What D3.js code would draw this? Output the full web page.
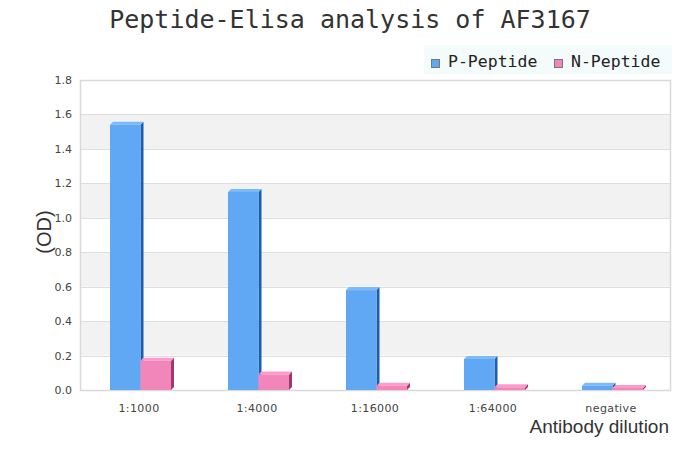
<!DOCTYPE html>
<html>
<head>
<meta charset="utf-8">
<script src="https://cdn.jsdelivr.net/npm/d3@7"></script>
<style>
  body { margin: 0; background: #fff; }
  svg { display: block; }
</style>
</head>
<body>
<div id="chart"></div>
<script>
// podatki
const categories = ["1:1000", "1:4000", "1:16000", "1:64000", "negative"];
const seriesNames = ["P-Peptide", "N-Peptide"];
const pPeptide = [1.54, 1.15, 0.58, 0.18, 0.025];
const nPeptide = [0.17, 0.09, 0.025, 0.016, 0.012];
const yTicks = [0, 0.2, 0.4, 0.6, 0.8, 1.0, 1.2, 1.4, 1.6, 1.8];

const W = 700, H = 450;
const margin = { top: 80, right: 30, bottom: 60, left: 80 };
const width = W - margin.left - margin.right;
const height = H - margin.top - margin.bottom;
const depth = 3;

const colors = {
  "P-Peptide": { front: "#60a8f4", top: "#7dbaf8", side: "#1a5eae" },
  "N-Peptide": { front: "#f285b9", top: "#ff9bcb", side: "#9e3a6e" }
};

const svg = d3.select("#chart").append("svg")
  .attr("width", W).attr("height", H);

// naslov
svg.append("text")
  .attr("x", 350).attr("y", 28)
  .attr("text-anchor", "middle")
  .attr("font-family", "'DejaVu Sans Mono', monospace")
  .attr("font-size", 25)
  .attr("fill", "#333")
  .text("Peptide-Elisa analysis of AF3167");

const g = svg.append("g").attr("transform", `translate(${margin.left},${margin.top})`);

const x = d3.scaleBand().domain(categories).range([0, width]);
const xs = d3.scaleBand().domain(seriesNames).range([30, 91]);
const y = d3.scaleLinear().domain([0, 1.8]).range([height, 0]);

// pasovi v ozadju
const bands = [[0.2, 0.4], [0.6, 0.8], [1.0, 1.2], [1.4, 1.6]];
g.selectAll(".band").data(bands).enter().append("rect")
  .attr("x", 0).attr("width", width)
  .attr("y", d => y(d[1])).attr("height", d => y(d[0]) - y(d[1]))
  .attr("fill", "#f2f2f2");

// mreža
g.selectAll(".grid").data(yTicks).enter().append("line")
  .attr("x1", 0).attr("x2", width)
  .attr("y1", d => Math.round(y(d)) + 0.5).attr("y2", d => Math.round(y(d)) + 0.5)
  .attr("stroke", "#dedede");

// okvir
g.append("rect")
  .attr("x", 0.5).attr("y", 0.5).attr("width", width).attr("height", height)
  .attr("fill", "none").attr("stroke", "#d9d9d9").attr("stroke-width", 1.5);

// osi
const yAxis = g.append("g").call(d3.axisLeft(y).tickValues(yTicks).tickFormat(d3.format(".1f")).tickSize(0).tickPadding(8));
yAxis.select(".domain").remove();
yAxis.selectAll("text").attr("font-family", "'DejaVu Sans', sans-serif").attr("font-size", 11).attr("fill", "#444");

const xAxis = g.append("g").attr("transform", `translate(0,${height})`)
  .call(d3.axisBottom(x).tickSize(0).tickPadding(14));
xAxis.select(".domain").remove();
xAxis.selectAll("text").attr("font-family", "'DejaVu Sans', sans-serif").attr("font-size", 11)
  .attr("letter-spacing", 0.4).attr("fill", "#444");

// 3D stolpci
const values = { "P-Peptide": pPeptide, "N-Peptide": nPeptide };
seriesNames.forEach(s => {
  const c = colors[s];
  const data = values[s].map((v, i) => ({ cat: categories[i], v }));
  const bars = g.selectAll(".bar-" + s).data(data).enter().append("g");
  const bx = d => x(d.cat) + xs(s);
  const bw = xs.bandwidth();
  bars.append("polygon")
    .attr("points", d => {
      const x0 = bx(d), y0 = y(d.v);
      return [[x0 + bw, y0], [x0 + bw + depth, y0 - depth], [x0 + bw + depth, height - depth], [x0 + bw, height]].join(" ");
    })
    .attr("fill", c.side);
  bars.append("polygon")
    .attr("points", d => {
      const x0 = bx(d), y0 = y(d.v);
      return [[x0, y0], [x0 + depth, y0 - depth], [x0 + bw + depth, y0 - depth], [x0 + bw, y0]].join(" ");
    })
    .attr("fill", c.top);
  bars.append("rect")
    .attr("x", bx).attr("y", d => y(d.v))
    .attr("width", bw).attr("height", d => height - y(d.v))
    .attr("fill", c.front);
});

// naslovi osi
svg.append("text")
  .attr("transform", "translate(51,232) rotate(-90)")
  .attr("text-anchor", "middle")
  .attr("font-family", "'Liberation Sans', Arial, sans-serif")
  .attr("font-size", 20)
  .attr("fill", "#333")
  .text("(OD)");

svg.append("text")
  .attr("x", 669).attr("y", 433)
  .attr("text-anchor", "end")
  .attr("font-family", "'Liberation Sans', Arial, sans-serif")
  .attr("font-size", 19)
  .attr("fill", "#333")
  .text("Antibody dilution");

// legenda
const legend = svg.append("g");
legend.append("rect")
  .attr("x", 424).attr("y", 45).attr("width", 248).attr("height", 29)
  .attr("fill", "#f4fbfb");
const legX = [431, 554];
seriesNames.forEach((s, i) => {
  legend.append("rect")
    .attr("x", legX[i] + 0.5).attr("y", 59.5).attr("width", 8).attr("height", 8)
    .attr("fill", colors[s].front).attr("stroke", "#777").attr("stroke-width", 1);
  legend.append("text")
    .attr("x", legX[i] + 17).attr("y", 67)
    .attr("font-family", "'DejaVu Sans Mono', monospace")
    .attr("font-size", 16.5)
    .attr("fill", "#222")
    .text(s);
});
</script>
</body>
</html>
